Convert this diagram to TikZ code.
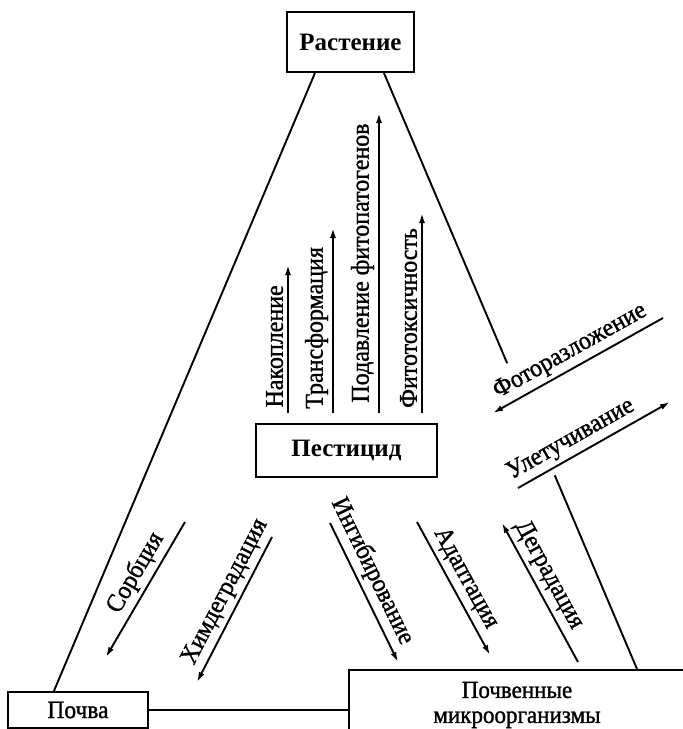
\documentclass[tikz,border=0pt]{standalone}
\usepackage{fontspec}
\setmainfont{Liberation Serif}
\newfontfamily\lblfont[FakeStretch=0.94,FakeBold=1.2]{Liberation Serif}
\usetikzlibrary{arrows.meta,calc}

\begin{document}
\begin{tikzpicture}[x=1pt,y=-1pt,
    box/.style = {draw, line width=2.1pt, inner sep=0pt},
    link/.style = {line width=1.9pt},
    arr/.style = {line width=1.9pt, -{Latex[length=10pt,width=6pt]}},
    lbl/.style = {font=\lblfont\fontsize{25.5}{26}\selectfont, inner sep=4pt}]
	\useasboundingbox (0,0) rectangle (683,729);
	\clip (0,0) rectangle (683,729);

	% boxes
	\node[box, minimum width=127pt, minimum height=60pt, font=\bfseries\fontsize{25}{25}\selectfont] (rast) at (350.5,42) {Растение};
	\node[box, minimum width=181pt, minimum height=53pt, font=\bfseries\fontsize{25}{25}\selectfont] (pest) at (346.5,450.5) {Пестицид};
	\node[box, minimum width=140pt, minimum height=36pt, font=\lblfont\fontsize{25}{25}\selectfont] (pochva) at (78,710) {Почва};
	\node[box, minimum width=360pt, minimum height=120pt, anchor=north west] (micro) at (348,669) {};
	\node[align=center, font=\lblfont\fontsize{24.5}{25}\selectfont] (microtxt) at (517,705) {Почвенные\\микроорганизмы};

	% triangle sides
	\coordinate (rl) at ($(rast.south west)+(29,0)$);
	\coordinate (rr) at ($(rast.south west)+(98,0)$);
	\coordinate (mr) at ($(micro.north west)+(289,0)$);
	\draw[link] (rl) -- ($(pochva.north west)+(47,0)$);
	\draw[link] (rr) -- ($(rr)!0.487!(mr)$);
	\draw[link] ($(rr)!0.675!(mr)$) -- (mr);
	\draw[link] (pochva.east) -- (pochva.east -| micro.west);

	% arrows up from pesticide
	\coordinate (nak0) at (288,413);   \coordinate (nak1) at (288,265);
	\coordinate (tra0) at (333,413);   \coordinate (tra1) at (333,228);
	\coordinate (pod0) at (379,413);   \coordinate (pod1) at (379,113);
	\coordinate (fit0) at (422,413);   \coordinate (fit1) at (422,213);
	\draw[arr] (nak0) -- (nak1) node[lbl, pos=.45, sloped, above] {Накопление};
	\draw[arr] (tra0) -- (tra1) node[lbl, pos=.46, sloped, above] {Трансформация};
	\draw[arr] (pod0) -- (pod1) node[lbl, pos=.5, sloped, above] {Подавление фитопатогенов};
	\draw[arr] (fit0) -- (fit1) node[lbl, pos=.475, sloped, above] {Фитотоксичность};

	% right side
	\coordinate (fr0) at (663,318);    \coordinate (fr1) at (493,413);
	\coordinate (ul0) at (518,488);    \coordinate (ul1) at (670,402);
	\draw[arr] (fr0) -- (fr1) node[lbl, pos=.5, sloped, above] {Фоторазложение};
	\draw[arr] (ul0) -- (ul1) node[lbl, pos=.4, sloped, above] {Улетучивание};

	% lower arrows
	\coordinate (sor0) at (185,522);   \coordinate (sor1) at (106,657);
	\coordinate (him0) at (272,537);   \coordinate (him1) at (197,682);
	\coordinate (ing0) at (330,523);   \coordinate (ing1) at (398,662);
	\coordinate (ada0) at (417,522);   \coordinate (ada1) at (490,655);
	\coordinate (deg0) at (578,662);   \coordinate (deg1) at (502,523);
	\draw[arr] (sor0) -- (sor1) node[lbl, pos=.44, sloped, above] {Сорбция};
	\draw[arr] (him0) -- (him1) node[lbl, pos=.43, sloped, above] {Химдеградация};
	\draw[arr] (ing0) -- (ing1) node[lbl, pos=.4, sloped, above] {Ингибирование};
	\draw[arr] (ada0) -- (ada1) node[lbl, pos=.48, sloped, above] {Адаптация};
	\draw[arr] (deg0) -- (deg1) node[lbl, pos=.57, sloped, above] {Деградация};
\end{tikzpicture}
\end{document}
